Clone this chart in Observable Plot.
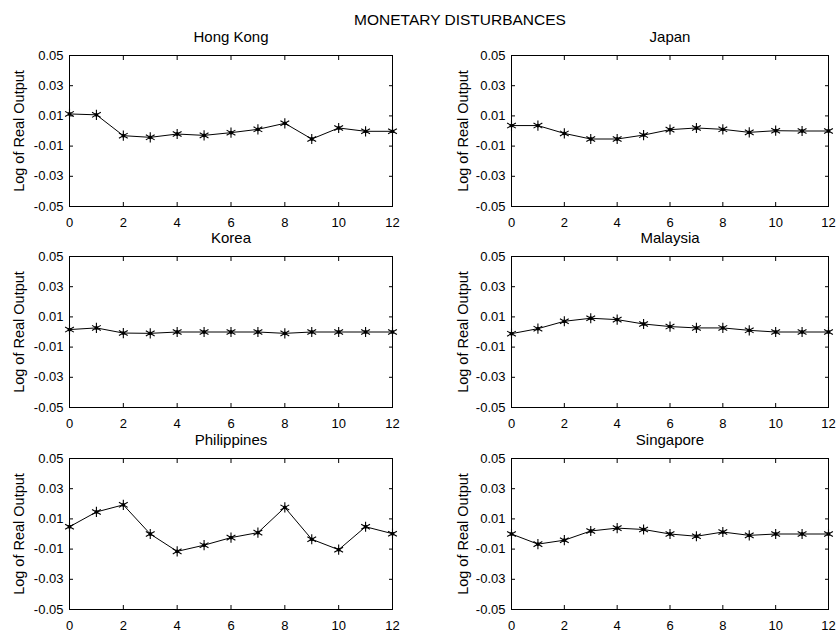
<!DOCTYPE html>
<html>
<head>
<meta charset="utf-8">
<script src="https://cdn.jsdelivr.net/npm/d3@7"></script>
<script src="https://cdn.jsdelivr.net/npm/@observablehq/plot@0.6"></script>
<style>
  html, body { margin: 0; padding: 0; background: #fff; }
  #fig { position: relative; width: 836px; height: 633px; overflow: hidden; background: #fff;
         font-family: "Liberation Sans", Arial, Helvetica, sans-serif; color: #000; }
  #main-title { position: absolute; left: 460px; top: 20px; transform: translate(-50%, -50%);
                font-size: 15.5px; white-space: nowrap; }
  .cell { position: absolute; }
</style>
</head>
<body>
<div id="fig">
  <div id="main-title">MONETARY DISTURBANCES</div>
</div>
<script>
// ---- data ----
const figureTitle = "MONETARY DISTURBANCES";
const yAxisTitle = "Log of Real Output";
const horizons = [0, 1, 2, 3, 4, 5, 6, 7, 8, 9, 10, 11, 12];
const xTicks = [0, 2, 4, 6, 8, 10, 12];
const xTickLabels = ["0", "2", "4", "6", "8", "10", "12"];
const yTicks = [-0.05, -0.03, -0.01, 0.01, 0.03, 0.05];
const yTickLabels = ["-0.05", "-0.03", "-0.01", "0.01", "0.03", "0.05"];
const countries = ["Hong Kong", "Japan", "Korea", "Malaysia", "Philippines", "Singapore"];

const hongKong    = [0.0113, 0.0107, -0.0031, -0.0042, -0.0020, -0.0029, -0.0011, 0.0011, 0.0051, -0.0053, 0.0020, -0.0002, -0.0002];
const japan       = [0.0036, 0.0036, -0.0016, -0.0053, -0.0053, -0.0027, 0.0009, 0.0020, 0.0011, -0.0009, 0.0002, 0.0000, 0.0000];
const korea       = [0.0016, 0.0027, -0.0007, -0.0009, 0.0000, 0.0000, 0.0000, 0.0000, -0.0009, 0.0000, 0.0000, 0.0000, 0.0000];
const malaysia    = [-0.0011, 0.0022, 0.0071, 0.0091, 0.0082, 0.0053, 0.0036, 0.0027, 0.0027, 0.0011, 0.0000, 0.0000, 0.0000];
const philippines = [0.0048, 0.0146, 0.0193, 0.0000, -0.0115, -0.0074, -0.0024, 0.0009, 0.0176, -0.0035, -0.0104, 0.0048, 0.0002];
const singapore   = [0.0000, -0.0067, -0.0041, 0.0020, 0.0039, 0.0030, 0.0000, -0.0015, 0.0013, -0.0009, 0.0000, 0.0000, 0.0000];

const seriesList = [hongKong, japan, korea, malaysia, philippines, singapore];

// ---- layout ----
const fig = document.getElementById("fig");
document.getElementById("main-title").textContent = figureTitle;
const fontFamily = '"Liberation Sans", Arial, Helvetica, sans-serif';

const cols = [
  {left: 0,   width: 418, marginLeft: 69, marginRight: 26, labelDx: -50},
  {left: 418, width: 418, marginLeft: 93, marginRight: 8,  labelDx: -48}
];
const rowTops = [25, 226, 428];
const mTop = 30, plotH = 151, mBottom = 25;

const fmtY = d => yTickLabels[yTicks.findIndex(t => Math.abs(t - d) < 1e-9)];
const fmtX = d => xTickLabels[xTicks.indexOf(d)];

countries.forEach((name, i) => {
  const col = cols[i % 2];
  const top = rowTops[Math.floor(i / 2)];
  const data = horizons.map((h, k) => ({h, v: seriesList[i][k]}));

  const chart = Plot.plot({
    width: col.width,
    height: mTop + plotH + mBottom,
    marginLeft: col.marginLeft,
    marginRight: col.marginRight,
    marginTop: mTop,
    marginBottom: mBottom,
    style: {fontFamily, fontSize: "13px", color: "#000", background: "transparent", overflow: "visible"},
    x: {domain: [0, 12]},
    y: {domain: [-0.05, 0.05]},
    marks: [
      // tick labels
      Plot.axisY(yTicks, {anchor: "left", tickSize: 0, tickPadding: 6, tickFormat: fmtY, label: null, fontSize: 13}),
      Plot.axisX(xTicks, {anchor: "bottom", tickSize: 0, tickPadding: 11, tickFormat: fmtX, label: null, fontSize: 13}),
      // inward ticks on all four sides
      Plot.axisY(yTicks, {anchor: "left", tickSize: -4, tickFormat: () => "", label: null}),
      Plot.axisY(yTicks, {anchor: "right", tickSize: -4, tickFormat: () => "", label: null}),
      Plot.axisX(xTicks, {anchor: "bottom", tickSize: -4, tickFormat: () => "", label: null}),
      Plot.axisX(xTicks, {anchor: "top", tickSize: -4, tickFormat: () => "", label: null}),
      Plot.frame({stroke: "#000", strokeWidth: 1}),
      Plot.line(data, {x: "h", y: "v", stroke: "#000", strokeWidth: 1}),
      Plot.dot(data, {x: "h", y: "v", symbol: "asterisk", r: 4.8, stroke: "#000", strokeWidth: 1.1}),
      Plot.dot(data, {x: "h", y: "v", r: 1.9, fill: "#000", stroke: null}),
      // subplot title
      Plot.text([name], {frameAnchor: "top", dy: -18, text: d => d, fontSize: 15, lineAnchor: "middle", fill: "#000"}),
      // y axis title
      Plot.text([yAxisTitle], {frameAnchor: "left", dx: col.labelDx, rotate: -90, text: d => d, fontSize: 14.5, lineAnchor: "middle", textAnchor: "middle", fill: "#000"})
    ]
  });
  chart.classList.add("cell");
  chart.style.left = col.left + "px";
  chart.style.top = top + "px";
  chart.style.position = "absolute";
  fig.appendChild(chart);
});
</script>
</body>
</html>
